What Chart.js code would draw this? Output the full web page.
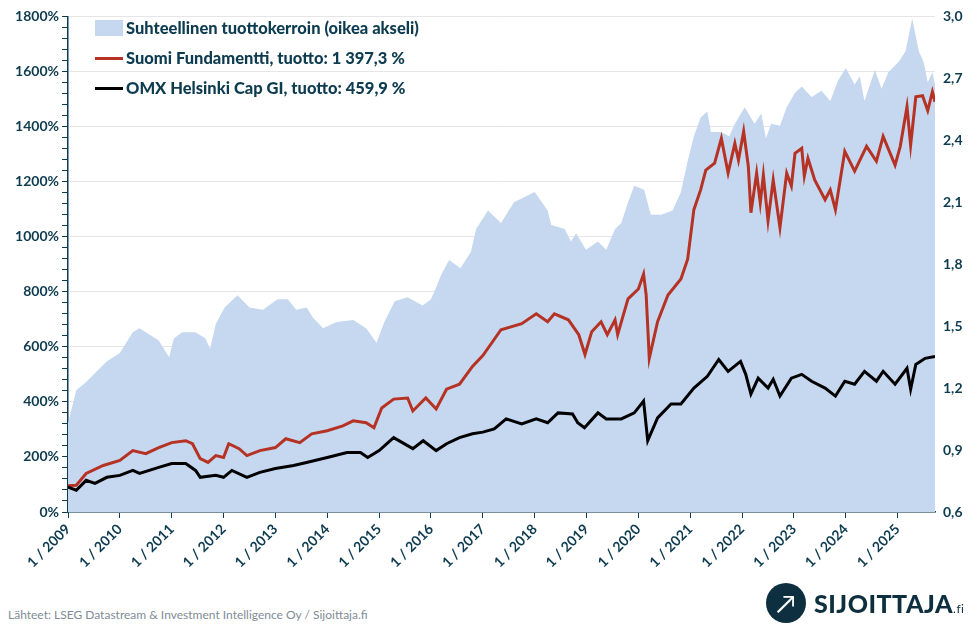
<!DOCTYPE html>
<html>
<head>
<meta charset="utf-8">
<script src="https://cdn.jsdelivr.net/npm/chart.js@4"></script>
<style>
  body { margin: 0; background: #fff; font-family: Lato, "Open Sans", sans-serif; }
  #wrap { position: relative; width: 977px; height: 626px; }
  #legend { position: absolute; left: 95px; top: 13px; color: #0d3b4f; font-weight: 900; font-size: 16.5px; }
  #legend div { height: 30px; line-height: 30px; display: flex; align-items: center; }
  #legend span.sw { display: inline-block; width: 28px; margin-right: 3px; }
  #src { position: absolute; left: 8px; top: 607px; font-size: 12px; color: #7f8c95; }
  #logo { position: absolute; left: 766px; top: 583px; display: flex; align-items: center; }
  #logo .c { width: 40px; height: 40px; border-radius: 50%; background: #0d2f3f; color: #fff; font-size: 26px; text-align: center; line-height: 40px; }
  #logo .t { margin-left: 8px; font-size: 25px; font-weight: 900; color: #0d2f3f; letter-spacing: 0.5px; }
  #logo .t small { font-size: 12px; font-weight: normal; }
</style>
</head>
<body>
<div id="wrap">
  <canvas id="chart" width="977" height="590"></canvas>
  <div id="legend">
    <div><span class="sw" style="height:16px;background:#c6d8f0"></span>Suhteellinen tuottokerroin (oikea akseli)</div>
    <div><span class="sw" style="height:3px;background:#b53224"></span>Suomi Fundamentti, tuotto: 1 397,3 %</div>
    <div><span class="sw" style="height:3px;background:#000"></span>OMX Helsinki Cap GI, tuotto: 459,9 %</div>
  </div>
  <div id="src">Lähteet: LSEG Datastream &amp; Investment Intelligence Oy / Sijoittaja.fi</div>
  <div id="logo"><div class="c">&#8599;</div><div class="t">SIJOITTAJA<small>.fi</small></div></div>
</div>
<script>
// Suomi Fundamentti (%)
const fundDates = [2009.0,2009.16,2009.35,2009.68,2010.0,2010.25,2010.5,2010.75,2011.0,2011.27,2011.4,2011.55,2011.7,2011.85,2012.0,2012.1,2012.3,2012.45,2012.7,2013.0,2013.2,2013.47,2013.7,2014.0,2014.3,2014.5,2014.75,2014.9,2015.05,2015.28,2015.55,2015.65,2015.9,2016.1,2016.3,2016.55,2016.8,2017.0,2017.35,2017.75,2018.03,2018.25,2018.38,2018.65,2018.85,2018.97,2019.1,2019.28,2019.4,2019.55,2019.6,2019.8,2020.0,2020.1,2020.15,2020.21,2020.37,2020.57,2020.82,2020.95,2021.07,2021.2,2021.3,2021.47,2021.6,2021.73,2021.86,2021.93,2022.03,2022.12,2022.17,2022.28,2022.35,2022.41,2022.5,2022.6,2022.73,2022.86,2022.95,2023.02,2023.15,2023.2,2023.27,2023.4,2023.6,2023.7,2023.8,2023.98,2024.17,2024.4,2024.59,2024.72,2024.95,2025.05,2025.18,2025.25,2025.35,2025.48,2025.58,2025.67,2025.72];
const fundValues = [95,97,140,169,187,223,212,234,252,259,248,194,180,205,198,248,230,205,223,234,266,252,284,295,313,331,324,306,378,410,414,367,414,374,446,464,529,568,662,684,720,691,720,698,644,572,655,691,644,698,644,774,810,864,788,558,691,788,846,918,1098,1170,1242,1267,1357,1231,1339,1278,1382,1256,1087,1231,1123,1224,1058,1206,1033,1231,1184,1303,1321,1220,1285,1206,1134,1170,1098,1310,1238,1328,1274,1364,1260,1328,1472,1332,1508,1512,1458,1526,1490];

// OMX Helsinki Cap GI (%)
const omxDates = [2009.0,2009.16,2009.35,2009.52,2009.75,2010.0,2010.25,2010.38,2010.75,2011.0,2011.27,2011.46,2011.55,2011.85,2012.0,2012.16,2012.45,2012.7,2013.0,2013.35,2013.6,2014.0,2014.38,2014.64,2014.78,2015.0,2015.28,2015.65,2015.85,2016.1,2016.3,2016.55,2016.8,2017.0,2017.22,2017.45,2017.75,2018.03,2018.25,2018.45,2018.73,2018.83,2018.96,2019.22,2019.38,2019.67,2019.92,2020.1,2020.18,2020.37,2020.63,2020.82,2021.07,2021.33,2021.55,2021.73,2021.97,2022.07,2022.17,2022.31,2022.5,2022.6,2022.73,2022.95,2023.15,2023.34,2023.6,2023.8,2023.98,2024.17,2024.36,2024.59,2024.72,2024.95,2025.18,2025.25,2025.35,2025.53,2025.72];
const omxValues = [90,79,115,104,126,133,151,140,162,176,176,151,126,133,126,151,126,144,158,169,180,198,216,216,198,223,270,230,259,223,248,270,284,290,302,338,320,338,324,360,356,324,306,360,338,338,360,403,259,342,392,392,450,493,554,511,547,500,428,486,450,482,421,486,500,475,450,421,475,464,511,475,511,464,522,446,536,558,565];

// Suhteellinen tuottokerroin (right axis)
const ratioDates = [2009.0,2009.16,2009.35,2009.55,2009.75,2010.0,2010.25,2010.38,2010.75,2010.95,2011.04,2011.2,2011.46,2011.65,2011.74,2011.85,2012.02,2012.27,2012.5,2012.76,2013.04,2013.24,2013.4,2013.6,2013.73,2013.92,2014.18,2014.5,2014.75,2014.95,2015.1,2015.3,2015.55,2015.84,2016.0,2016.07,2016.2,2016.35,2016.57,2016.77,2016.87,2017.1,2017.35,2017.6,2018.0,2018.25,2018.32,2018.58,2018.7,2018.8,2018.99,2019.22,2019.38,2019.55,2019.67,2019.8,2019.92,2020.11,2020.24,2020.44,2020.66,2020.82,2020.95,2021.07,2021.2,2021.33,2021.4,2021.6,2021.75,2021.86,2022.05,2022.24,2022.37,2022.46,2022.56,2022.73,2022.86,2023.02,2023.15,2023.34,2023.53,2023.7,2023.85,2024.0,2024.17,2024.27,2024.36,2024.56,2024.69,2024.82,2025.02,2025.15,2025.28,2025.41,2025.5,2025.58,2025.67,2025.72];
const ratioValues = [1.03,1.19,1.23,1.28,1.33,1.37,1.47,1.49,1.43,1.35,1.44,1.47,1.47,1.44,1.39,1.51,1.59,1.65,1.59,1.58,1.63,1.63,1.58,1.59,1.54,1.49,1.52,1.53,1.49,1.42,1.52,1.62,1.64,1.60,1.63,1.67,1.75,1.82,1.78,1.86,1.97,2.06,2.00,2.10,2.15,2.06,1.99,1.97,1.91,1.95,1.87,1.91,1.87,1.97,2.00,2.10,2.18,2.16,2.04,2.04,2.06,2.15,2.30,2.42,2.51,2.54,2.44,2.44,2.42,2.48,2.56,2.48,2.53,2.41,2.48,2.47,2.56,2.63,2.66,2.61,2.64,2.59,2.69,2.75,2.67,2.71,2.59,2.74,2.65,2.73,2.78,2.83,2.99,2.83,2.78,2.68,2.73,2.67];

const yearTicks = [2009,2010,2011,2012,2013,2014,2015,2016,2017,2018,2019,2020,2021,2022,2023,2024,2025];

const pts = (xs, ys) => xs.map((x, i) => ({ x: x, y: ys[i] }));
const axisColor = '#0d3b4f';
const tickFont = { family: 'Lato, sans-serif', weight: 'bold', size: 14 };

new Chart(document.getElementById('chart'), {
    type: 'line',
    data: {
        datasets: [
            {
                label: 'Suomi Fundamentti',
                data: pts(fundDates, fundValues),
                borderColor: '#b53224',
                borderWidth: 3,
                pointRadius: 0,
                yAxisID: 'y',
                order: 1
            },
            {
                label: 'OMX Helsinki Cap GI',
                data: pts(omxDates, omxValues),
                borderColor: '#000',
                borderWidth: 3,
                pointRadius: 0,
                yAxisID: 'y',
                order: 0
            },
            {
                label: 'Suhteellinen tuottokerroin',
                data: pts(ratioDates, ratioValues),
                borderWidth: 0,
                borderColor: 'rgba(0,0,0,0)',
                backgroundColor: '#c6d8f0',
                fill: 'start',
                pointRadius: 0,
                yAxisID: 'y2',
                order: 5
            }
        ]
    },
    options: {
        responsive: false,
        animation: false,
        layout: { padding: { top: 12 } },
        plugins: { legend: { display: false }, tooltip: { enabled: false } },
        scales: {
            x: {
                type: 'linear',
                min: 2009,
                max: 2025.72,
                afterBuildTicks: (s) => { s.ticks = yearTicks.map(v => ({ value: v })); },
                afterFit: (s) => { s.height = 78; },
                ticks: {
                    color: axisColor, font: tickFont, maxRotation: 45, minRotation: 45,
                    callback: (v) => '1 / ' + v
                },
                grid: { drawOnChartArea: false, color: axisColor, tickLength: 6 },
                border: { color: axisColor, width: 1.5 }
            },
            y: {
                position: 'left',
                min: 0,
                max: 1800,
                afterFit: (s) => { s.width = 68; },
                ticks: {
                    stepSize: 40, autoSkip: false, color: axisColor, font: tickFont,
                    callback: (v) => v % 200 === 0 ? v + '%' : ''
                },
                grid: {
                    tickLength: 6,
                    color: (c) => c.tick && c.tick.value % 200 === 0 ? '#e6e6e6' : 'rgba(0,0,0,0)',
                    tickColor: axisColor
                },
                border: { color: axisColor, width: 1.5 }
            },
            y2: {
                position: 'right',
                min: 0.6,
                max: 3.0,
                afterFit: (s) => { s.width = 42; },
                ticks: {
                    stepSize: 0.3, color: axisColor, font: tickFont, padding: 8,
                    callback: (v) => v.toFixed(1).replace('.', ',')
                },
                grid: { drawOnChartArea: false, drawTicks: false },
                border: { display: false }
            }
        }
    }
});
</script>
</body>
</html>
